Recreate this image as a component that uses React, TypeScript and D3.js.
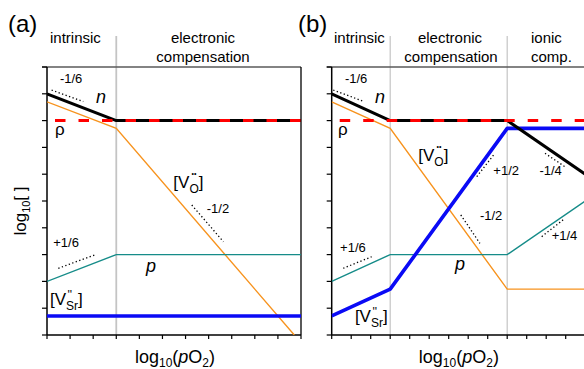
import React from "react";
import * as d3 from "d3";

const W = 584;
const H = 369;
const FONT = "'Liberation Sans', Arial, Helvetica, sans-serif";

type Pt = [number, number];

// shared vertical scale: log10 of concentrations, 10 steps
const yTicks = d3.range(0, 11);

// panel (a): intrinsic | electronic compensation
const xTicksA = d3.range(0, 12);
const boundariesA = [3];
const nA: Pt[] = [[0, 9], [3, 8], [11, 8]];
const vOA: Pt[] = [[0, 8.7], [3, 7.71], [10.71, 0]];
const pA: Pt[] = [[0, 2], [3, 3], [11, 3]];
const vSrA: Pt[] = [[0, 0.71], [11, 0.71]];
const rhoA: Pt[] = [[0, 8], [11, 8]];

// panel (b): intrinsic | electronic compensation | ionic compensation
const xTicksB = d3.range(0, 14);
const boundariesB = [3, 9];
const nB: Pt[] = [[0, 9], [3, 8], [9, 8], [13, 6]];
const vOB: Pt[] = [[0, 8.7], [3, 7.71], [9, 1.71], [13, 1.71]];
const pB: Pt[] = [[0, 2], [3, 3], [9, 3], [13, 5]];
const vSrB: Pt[] = [[0, 0.71], [3, 1.71], [9, 7.71], [13, 7.71]];
const rhoB: Pt[] = [[0, 8], [13, 8]];

// slope guides [x1, y1, x2, y2] and their labels
const slopeGuidesA = [
  [0.2, 9.14, 1.57, 8.71],
  [6.27, 4.85, 7.64, 3.48],
  [0.49, 2.49, 2.08, 2.99],
];
const slopeLabelsA = [
  { x: 0.56, y: 9.4, t: "-1/6" },
  { x: 6.92, y: 4.55, t: "-1/2" },
  { x: 0.27, y: 3.28, t: "+1/6" },
];
const slopeGuidesB = [
  [0.08, 9.14, 1.59, 8.73],
  [7.44, 5.91, 8.37, 6.78],
  [10.94, 6.78, 11.96, 6.28],
  [6.62, 4.48, 7.6, 3.42],
  [10.77, 3.67, 11.96, 4.35],
  [0.59, 2.49, 2.05, 2.92],
];
const slopeLabelsB = [
  { x: 0.68, y: 9.4, t: "-1/6" },
  { x: 8.29, y: 5.97, t: "+1/2" },
  { x: 10.65, y: 5.97, t: "-1/4" },
  { x: 7.6, y: 4.29, t: "-1/2" },
  { x: 11.28, y: 3.54, t: "+1/4" },
  { x: 0.43, y: 3.11, t: "+1/6" },
];

// species labels
const speciesA = { n: [2.12, 8.66], rho: [0.35, 7.46], vO: [5.47, 5.47], p: [4.29, 2.36], vSr: [0.13, 1.12] };
const speciesB = { n: [2.22, 8.66], rho: [0.32, 7.46], vO: [4.44, 6.5], p: [6.32, 2.43], vSr: [1.19, 0.5] };

const COLORS = {
  n: "#000000",
  rho: "#ff0000",
  vO: "#f7931e",
  p: "#168c89",
  vSr: "#0a0af5",
  sep: "#c4c4c4",
  frameTop: "#5a5a5a",
};

const yScale = d3.scaleLinear().domain([0, 10]).range([335, 67]);

// Kröger–Vink label for the doubly charged oxygen vacancy
function VOLabel({ x, y }: { x: number; y: number }) {
  return (
    <text x={x} y={y} fontSize={17} fontFamily={FONT} fill="#000">
      [V
      <tspan dx={2.2} dy={-12} fontSize={7}>••</tspan>
      <tspan dx={-7.1} dy={17} fontSize={12}>O</tspan>
      <tspan dy={-5} fontSize={17}>]</tspan>
    </text>
  );
}

// Kröger–Vink label for the doubly charged strontium vacancy
function VSrLabel({ x, y }: { x: number; y: number }) {
  return (
    <text x={x} y={y} fontSize={17} fontFamily={FONT} fill="#000">
      [V
      <tspan dx={1.5} dy={-6} fontSize={12}>''</tspan>
      <tspan dx={-6.1} dy={11} fontSize={12}>Sr</tspan>
      <tspan dy={-5} fontSize={17}>]</tspan>
    </text>
  );
}

function Panel(props: {
  x: d3.ScaleLinear<number, number>;
  xTicks: number[];
  boundaries: number[];
  n: Pt[];
  vO: Pt[];
  p: Pt[];
  vSr: Pt[];
  rho: Pt[];
  guides: number[][];
  slopeLabels: { x: number; y: number; t: string }[];
  species: { [k: string]: number[] };
  letter: string;
  letterX: number;
  headers: { t: string; x: number; y: number; anchor: string }[];
  rightFrame: boolean;
  clipId: string;
}) {
  const { x, xTicks, boundaries } = props;
  const y = yScale;
  const line = d3
    .line<Pt>()
    .x((d) => x(d[0]))
    .y((d) => y(d[1]));
  const x0 = x(x.domain()[0]);
  const x1 = x(x.domain()[1]);
  const yTop = y(10);
  const yBot = y(0);
  const axisLabelX = (x0 + Math.min(x1, W)) / 2 + 1;
  return (
    <g>
      <defs>
        <clipPath id={props.clipId}>
          <rect x={x0} y={yTop - 2} width={x1 - x0} height={yBot - yTop + 2} />
        </clipPath>
      </defs>
      {/* regime boundaries */}
      {boundaries.map((b, i) => (
        <line
          key={i}
          x1={x(b)}
          x2={x(b)}
          y1={36}
          y2={yBot}
          stroke={COLORS.sep}
          strokeWidth={props.rightFrame ? 1.8 : 1.2}
        />
      ))}
      {/* frame */}
      <line x1={x0 - 5} x2={x1} y1={yTop} y2={yTop} stroke={COLORS.frameTop} strokeWidth={1.5} />
      {props.rightFrame && <line x1={x1} x2={x1} y1={yTop} y2={yBot} stroke="#000" strokeWidth={1.3} />}
      <line x1={x0} x2={x0} y1={yTop} y2={yBot} stroke="#000" strokeWidth={1.5} />
      <line x1={x0} x2={x1} y1={yBot} y2={yBot} stroke="#000" strokeWidth={1.5} />
      {yTicks.map((t) => (
        <line key={t} x1={x0 - 5} x2={x0} y1={y(t)} y2={y(t)} stroke="#000" strokeWidth={1.2} />
      ))}
      {xTicks.map((t) => (
        <line key={t} x1={x(t)} x2={x(t)} y1={yBot} y2={yBot + 4} stroke="#000" strokeWidth={1.2} />
      ))}
      {/* defect concentrations */}
      <g clipPath={`url(#${props.clipId})`} fill="none">
        <path d={line(props.vO) || ""} stroke={COLORS.vO} strokeWidth={1.4} />
        <path d={line(props.p) || ""} stroke={COLORS.p} strokeWidth={1.4} />
        <path d={line(props.vSr) || ""} stroke={COLORS.vSr} strokeWidth={3.6} strokeLinejoin="round" />
        <path d={line(props.n) || ""} stroke={COLORS.n} strokeWidth={3} strokeLinejoin="round" />
        <path
          d={line(props.rho) || ""}
          stroke={COLORS.rho}
          strokeWidth={3}
          strokeDasharray="10.5 13"
          strokeDashoffset={15.5}
        />
      </g>
      {/* slope guides */}
      {props.guides.map((g, i) => (
        <line
          key={i}
          x1={x(g[0])}
          y1={y(g[1])}
          x2={x(g[2])}
          y2={y(g[3])}
          stroke="#000"
          strokeWidth={1.3}
          strokeDasharray="1.3 2.4"
        />
      ))}
      {props.slopeLabels.map((l, i) => (
        <text key={i} x={x(l.x)} y={y(l.y)} fontSize={13} fontFamily={FONT}>
          {l.t}
        </text>
      ))}
      {/* species names */}
      <text x={x(props.species.n[0])} y={y(props.species.n[1])} fontSize={18} fontStyle="italic" fontFamily={FONT}>
        n
      </text>
      <text x={x(props.species.p[0])} y={y(props.species.p[1])} fontSize={18} fontStyle="italic" fontFamily={FONT}>
        p
      </text>
      <text x={x(props.species.rho[0])} y={y(props.species.rho[1])} fontSize={17} fontFamily={FONT}>
        ρ
      </text>
      <VOLabel x={x(props.species.vO[0])} y={y(props.species.vO[1])} />
      <VSrLabel x={x(props.species.vSr[0])} y={y(props.species.vSr[1])} />
      {/* headers */}
      <text x={props.letterX} y={32} fontSize={24} fontFamily={FONT}>
        {props.letter}
      </text>
      {props.headers.map((h, i) => (
        <text key={i} x={h.x} y={h.y} fontSize={15} fontFamily={FONT} textAnchor={h.anchor as any}>
          {h.t}
        </text>
      ))}
      {/* x-axis title */}
      <text x={axisLabelX} y={363} fontSize={18} fontFamily={FONT} textAnchor="middle">
        log<tspan dy={4} fontSize={12}>10</tspan>
        <tspan dy={-4}>(</tspan>
        <tspan fontStyle="italic">p</tspan>O<tspan dy={4} fontSize={12}>2</tspan>
        <tspan dy={-4}>)</tspan>
      </text>
    </g>
  );
}

export default function App() {
  const xA = d3.scaleLinear().domain([0, 11]).range([47, 301]);
  const xB = d3.scaleLinear().domain([0, 13]).range([331.7, 585.2]);
  return (
    <svg
      width={W}
      height={H}
      viewBox={`0 0 ${W} ${H}`}
      style={{ position: "absolute", left: 0, top: 0, background: "#fff" }}
    >
      <rect width={W} height={H} fill="#fff" />
      <Panel
        x={xA}
        xTicks={xTicksA}
        boundaries={boundariesA}
        n={nA}
        vO={vOA}
        p={pA}
        vSr={vSrA}
        rho={rhoA}
        guides={slopeGuidesA}
        slopeLabels={slopeLabelsA}
        species={speciesA}
        letter="(a)"
        letterX={8}
        headers={[
          { t: "intrinsic", x: 50, y: 43, anchor: "start" },
          { t: "electronic", x: 203, y: 43, anchor: "middle" },
          { t: "compensation", x: 203, y: 62, anchor: "middle" },
        ]}
        rightFrame={true}
        clipId="clipA"
      />
      <Panel
        x={xB}
        xTicks={xTicksB}
        boundaries={boundariesB}
        n={nB}
        vO={vOB}
        p={pB}
        vSr={vSrB}
        rho={rhoB}
        guides={slopeGuidesB}
        slopeLabels={slopeLabelsB}
        species={speciesB}
        letter="(b)"
        letterX={298}
        headers={[
          { t: "intrinsic", x: 334, y: 43, anchor: "start" },
          { t: "electronic", x: 450, y: 43, anchor: "middle" },
          { t: "compensation", x: 451, y: 62, anchor: "middle" },
          { t: "ionic", x: 531, y: 43, anchor: "start" },
          { t: "comp.", x: 531, y: 62, anchor: "start" },
        ]}
        rightFrame={false}
        clipId="clipB"
      />
      {/* y-axis title */}
      <text
        transform="translate(26,211) rotate(-90)"
        fontSize={17}
        fontFamily={FONT}
        textAnchor="middle"
      >
        log<tspan dy={4} fontSize={11}>10</tspan>
        <tspan dy={-4}>[ ]</tspan>
      </text>
    </svg>
  );
}
